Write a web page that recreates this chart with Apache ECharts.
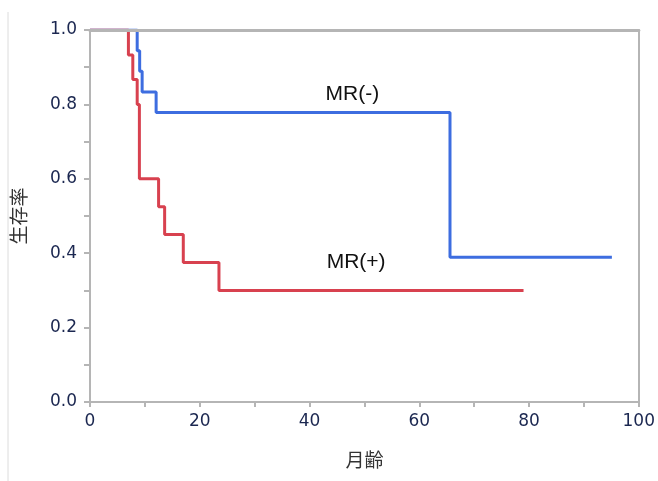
<!DOCTYPE html>
<html><head><meta charset="utf-8">
<script src="https://cdn.jsdelivr.net/npm/echarts@6/dist/echarts.min.js"></script>
<style>html,body{margin:0;padding:0;background:#fff}#c{width:658px;height:481px}</style>
</head><body><div id="c"></div>
<script>
// MR(+) Kaplan-Meier steps: [month, survival]
const mrPlusTimes = [0, 7.0, 7.8, 8.6, 9.0, 12.5, 13.6, 17.0, 23.5, 79.0];
const mrPlusSurv  = [1.0, 0.933, 0.867, 0.8, 0.6, 0.525, 0.45, 0.375, 0.3, 0.3];
// MR(-) Kaplan-Meier steps
const mrMinusTimes = [0, 8.6, 9.05, 9.5, 12.05, 65.6, 95.1];
const mrMinusSurv  = [1.0, 0.944, 0.889, 0.833, 0.778, 0.389, 0.389];
const seriesNames = ['MR(-)', 'MR(+)'];
const labelPos = { 'MR(-)': [47.8, 0.827], 'MR(+)': [48.5, 0.377] };
const xName = '月齢';
const yName = '生存率';

const zip = (a, b) => a.map((v, i) => [v, b[i]]);
const tickColor = '#1b2750';
const axisGray = '#b5b5b5';

const chart = echarts.init(document.getElementById('c'));
chart.setOption({
  animation: false,
  backgroundColor: '#fff',
  grid: { left: 90, right: 15, top: 30, bottom: 79 },
  graphic: [{ type: 'line', shape: { x1: 8, y1: 12, x2: 8, y2: 481 }, style: { stroke: '#dcdcdc', lineWidth: 1 } }],
  xAxis: [{
    type: 'value', min: 0, max: 100, interval: 20, z: 10,
    name: xName, nameLocation: 'middle', nameGap: 48,
    nameTextStyle: { fontFamily: 'Noto Sans CJK JP', fontSize: 19, color: '#333' },
    axisLine: { onZero: false, lineStyle: { color: axisGray, width: 2 } },
    axisTick: { length: 5, lineStyle: { color: axisGray, width: 2 } },
    minorTick: { show: true, splitNumber: 2, length: 5, lineStyle: { color: axisGray, width: 2 } },
    splitLine: { show: false },
    axisLabel: { fontFamily: 'DejaVu Sans', fontSize: 17, color: tickColor, margin: 11 }
  }, {
    type: 'value', position: 'top', min: 0, max: 100, z: 10,
    axisLine: { show: true, onZero: false, lineStyle: { color: axisGray, width: 3.2 } },
    axisTick: { show: false }, axisLabel: { show: false }, splitLine: { show: false }
  }],
  yAxis: [{
    type: 'value', min: 0, max: 1, interval: 0.2, z: 10,
    name: yName, nameLocation: 'middle', nameGap: 62, nameRotate: 90,
    nameTextStyle: { fontFamily: 'Noto Sans CJK JP', fontSize: 19, color: '#333' },
    axisLine: { show: true, onZero: false, lineStyle: { color: axisGray, width: 2 } },
    axisTick: { show: true, length: 6, lineStyle: { color: axisGray, width: 2 } },
    minorTick: { show: true, splitNumber: 2, length: 6, lineStyle: { color: axisGray, width: 2 } },
    splitLine: { show: false },
    axisLabel: { fontFamily: 'DejaVu Sans', fontSize: 17, color: tickColor, margin: 13,
      formatter: v => v.toFixed(1) }
  }, {
    type: 'value', position: 'right', min: 0, max: 1, z: 10,
    axisLine: { show: true, onZero: false, lineStyle: { color: axisGray, width: 2 } },
    axisTick: { show: false }, axisLabel: { show: false }, splitLine: { show: false }
  }],
  series: [{
    name: seriesNames[0], type: 'line', step: 'end', symbol: 'none',
    data: zip(mrMinusTimes, mrMinusSurv),
    lineStyle: { color: '#3d6de0', width: 3 },
    markPoint: { symbol: 'circle', symbolSize: 0, data: [{ coord: labelPos['MR(-)'], value: seriesNames[0] }],
      label: { show: true, position: 'inside', formatter: seriesNames[0], fontFamily: 'Liberation Sans', fontSize: 21, color: '#111' } }
  }, {
    name: seriesNames[1], type: 'line', step: 'end', symbol: 'none',
    data: zip(mrPlusTimes, mrPlusSurv),
    lineStyle: { color: '#d8414f', width: 3 },
    markPoint: { symbol: 'circle', symbolSize: 0, data: [{ coord: labelPos['MR(+)'], value: seriesNames[1] }],
      label: { show: true, position: 'inside', formatter: seriesNames[1], fontFamily: 'Liberation Sans', fontSize: 21, color: '#111' } }
  }]
});
</script></body></html>
